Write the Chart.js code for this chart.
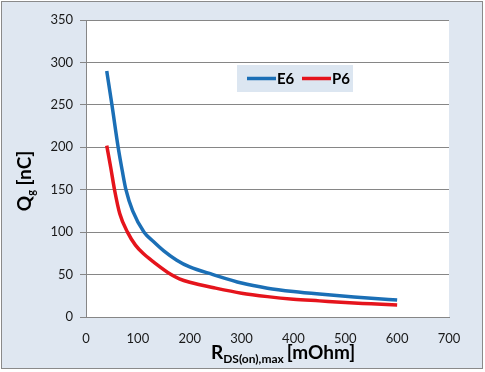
<!DOCTYPE html>
<html>
<head>
<meta charset="utf-8">
<script src="https://cdn.jsdelivr.net/npm/chart.js@4/dist/chart.umd.min.js"></script>
<style>
  html, body { margin: 0; padding: 0; background: #ffffff; }
  #wrap { width: 485px; height: 372px; }
</style>
</head>
<body>
<div id="wrap"><canvas id="chart" width="485" height="372"></canvas></div>
<script>
// --- 데이터 ---
const rdsE6 = [40, 50, 62, 70, 77, 90, 112, 130, 150, 175, 200, 245, 300, 350, 400, 450, 500, 550, 600];
const qgE6  = [290, 250, 200, 172, 150, 125, 100, 89, 78, 67, 59, 50, 40, 34, 30, 27, 24.5, 22, 20];
const rdsP6 = [40, 48, 55, 65, 80, 95, 110, 130, 164, 180, 200, 250, 300, 350, 400, 450, 500, 550, 600];
const qgP6  = [202, 175, 150, 122, 100, 85, 75, 65, 50, 45, 41, 34, 28, 24, 21, 19, 17, 15.5, 14];
const seriesNames = ['E6', 'P6'];
const seriesColors = ['#1b6fb6', '#e5141c'];

const xTicks = [0, 100, 200, 300, 400, 500, 600, 700];
const yTicks = [0, 50, 100, 150, 200, 250, 300, 350];

const FONT = 'Lato, "Open Sans", sans-serif';

function toPoints(xs, ys) {
  return xs.map((x, i) => ({ x, y: ys[i] }));
}

// --- 배경 / 범례 / 축 제목 ---
const decor = {
  id: 'decor',
  beforeDraw(chart) {
    const { ctx, chartArea: a } = chart;
    ctx.save();
    ctx.fillStyle = '#ffffff';
    ctx.fillRect(0, 0, chart.width, chart.height);
    ctx.fillStyle = '#dfe7f1';
    ctx.fillRect(1, 1, 482, 368);
    ctx.strokeStyle = '#8a8a8a';
    ctx.lineWidth = 1;
    ctx.strokeRect(1.5, 1.5, 481, 367);
    ctx.fillStyle = '#ffffff';
    ctx.fillRect(a.left, a.top, a.right - a.left, a.bottom - a.top);
    ctx.restore();
  },
  afterDraw(chart) {
    const ctx = chart.ctx;
    ctx.save();

    // 범례
    ctx.fillStyle = '#dce6f1';
    ctx.fillRect(237, 65, 116, 27);
    ctx.lineWidth = 3.5;
    ctx.font = 'bold 15px ' + FONT;
    ctx.textBaseline = 'middle';
    const legendX = [247, 302];
    seriesNames.forEach((name, i) => {
      ctx.strokeStyle = seriesColors[i];
      ctx.beginPath();
      ctx.moveTo(legendX[i], 78.5);
      ctx.lineTo(legendX[i] + 29, 78.5);
      ctx.stroke();
      ctx.fillStyle = '#000000';
      ctx.textAlign = 'left';
      ctx.fillText(name, legendX[i] + 30, 79);
    });

    // x축 제목
    ctx.fillStyle = '#000000';
    ctx.textBaseline = 'alphabetic';
    ctx.textAlign = 'left';
    let x = 211;
    const base = 359;
    ctx.font = 'bold 19px ' + FONT;
    ctx.fillText('R', x, base);
    x += ctx.measureText('R').width;
    ctx.font = 'bold 12px ' + FONT;
    ctx.fillText('DS(on),max', x, base + 4);
    x += ctx.measureText('DS(on),max').width + 3;
    ctx.font = 'bold 19px ' + FONT;
    ctx.fillText('[mOhm]', x, base);

    // y축 제목
    ctx.translate(31, 181);
    ctx.rotate(-Math.PI / 2);
    ctx.font = 'bold 19px ' + FONT;
    const wQ = ctx.measureText('Q').width;
    ctx.font = 'bold 11px ' + FONT;
    const wg = ctx.measureText('g').width;
    ctx.font = 'bold 19px ' + FONT;
    const wN = ctx.measureText(' [nC]').width;
    let y = -(wQ + wg + wN) / 2;
    ctx.fillText('Q', y, 0);
    y += wQ;
    ctx.font = 'bold 11px ' + FONT;
    ctx.fillText('g', y, 4);
    y += wg;
    ctx.font = 'bold 19px ' + FONT;
    ctx.fillText(' [nC]', y, 0);
    ctx.restore();
  }
};

new Chart(document.getElementById('chart'), {
  type: 'scatter',
  data: {
    datasets: [
      { label: seriesNames[0], data: toPoints(rdsE6, qgE6) },
      { label: seriesNames[1], data: toPoints(rdsP6, qgP6) }
    ].map((d, i) => Object.assign(d, {
      showLine: true,
      borderColor: seriesColors[i],
      backgroundColor: seriesColors[i],
      borderWidth: 3.5,
      pointRadius: 0,
      cubicInterpolationMode: 'monotone'
    }))
  },
  options: {
    responsive: false,
    animation: false,
    layout: { padding: { left: 0, top: 20, right: 36, bottom: 0 } },
    plugins: { legend: { display: false }, tooltip: { enabled: false } },
    scales: {
      x: {
        type: 'linear',
        min: 0, max: 700,
        afterBuildTicks: s => { s.ticks = xTicks.map(v => ({ value: v })); },
        afterFit: s => { s.height = 55; },
        grid: { display: false, drawOnChartArea: false, tickLength: 6, color: '#868686' },
        border: { display: true, color: '#868686', width: 1 },
        ticks: { color: '#1a1a1a', font: { family: FONT, size: 13 }, padding: 8, maxRotation: 0 }
      },
      y: {
        min: 0, max: 350,
        afterBuildTicks: s => { s.ticks = yTicks.map(v => ({ value: v })); },
        afterFit: s => { s.width = 86; },
        grid: { color: '#868686', lineWidth: 1, tickLength: 6 },
        border: { display: true, color: '#868686', width: 1 },
        ticks: { color: '#1a1a1a', font: { family: FONT, size: 13 }, padding: 7 }
      }
    }
  },
  plugins: [decor]
});
</script>
</body>
</html>
